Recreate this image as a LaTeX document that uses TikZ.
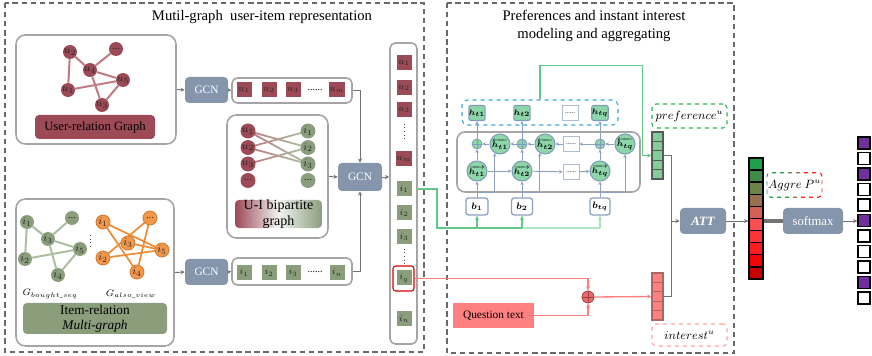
\documentclass[tikz,border=0pt]{standalone}
\usepackage{amsmath}
\usepackage{bm}
\usepackage{fontspec}
\setmainfont{Liberation Serif}
\usetikzlibrary{arrows.meta,calc,backgrounds}

\definecolor{ured}{RGB}{156,74,86}
\definecolor{uedge}{RGB}{192,122,132}
\definecolor{igreen}{RGB}{138,158,124}
\definecolor{iedge}{RGB}{172,190,160}
\definecolor{iorange}{RGB}{243,152,74}
\definecolor{orangeline}{RGB}{240,140,55}
\definecolor{gcnblue}{RGB}{133,149,172}
\definecolor{panelgray}{RGB}{165,165,165}
\definecolor{framegray}{RGB}{105,105,105}
\definecolor{wire}{RGB}{115,115,115}
\definecolor{lstmline}{RGB}{140,160,192}
\definecolor{hgreen}{RGB}{140,214,170}
\definecolor{hedge}{RGB}{128,156,184}
\definecolor{skyblue}{RGB}{56,168,210}
\definecolor{mint}{RGB}{98,200,135}
\definecolor{salmon}{RGB}{255,128,128}
\definecolor{redline}{RGB}{255,125,125}
\definecolor{plusfill}{RGB}{228,108,108}
\definecolor{plusedge}{RGB}{165,62,62}
\definecolor{prefgreen}{RGB}{128,206,152}
\definecolor{purp}{RGB}{112,48,160}
\definecolor{ag1}{RGB}{30,160,72}
\definecolor{ag2}{RGB}{62,140,72}
\definecolor{ag3}{RGB}{108,132,72}
\definecolor{ag4}{RGB}{152,112,80}
\definecolor{ag5}{RGB}{210,98,84}
\definecolor{ag6}{RGB}{250,80,80}
\definecolor{ag7}{RGB}{250,52,52}
\definecolor{ag8}{RGB}{252,30,30}
\definecolor{ag9}{RGB}{240,5,5}
\definecolor{ag10}{RGB}{200,0,0}

\begin{document}
\begin{tikzpicture}[x=0.75pt,y=-0.75pt,
  wh/.style 2 args={minimum width=#1*0.75pt, minimum height=#2*0.75pt, inner sep=0pt},
  panel/.style={draw=panelgray, line width=1.2pt, rounded corners=7pt},
  dframe/.style={draw=framegray, line width=1.4pt, dash pattern=on 4pt off 2.8pt},
  ttl/.style={font=\fontsize{11}{13.5}\selectfont, align=center},
  unode/.style={circle, fill=ured, minimum size=10.5pt, inner sep=0pt, font=\fontsize{8}{8}\selectfont, text=black!85},
  gnode/.style={unode, fill=igreen},
  onode/.style={unode, fill=iorange, draw=orangeline!85!black, line width=0.6pt},
  usq/.style={wh={15}{15}, fill=ured, font=\fontsize{7.5}{7.5}\selectfont, text=black!85},
  isq/.style={usq, fill=igreen},
  dots/.style={font=\fontsize{7.5}{7.5}\selectfont},
  gcn/.style={fill=gcnblue, rounded corners=3pt, text=white, font=\fontsize{8.5}{10}\selectfont},
  tag/.style={rounded corners=3pt, font=\fontsize{9.5}{11}\selectfont, align=center},
  arr/.style={draw=wire, line width=0.7pt, -{Stealth[length=3.2pt,width=3pt]}},
  ln/.style={draw=wire, line width=0.7pt},
  uline/.style={draw=uedge, line width=1.5pt},
  gline/.style={draw=mint, line width=1.2pt},
  garr/.style={gline, -{Stealth[length=3.2pt,width=3pt]}},
  rarr/.style={draw=redline, line width=1pt, -{Stealth[length=3.2pt,width=3pt]}},
  hsq/.style={wh={15}{15}, fill=hgreen, draw=hedge, line width=0.8pt, rounded corners=1.5pt, font=\fontsize{6.5}{7}\selectfont},
  hcirc/.style={circle, fill=hgreen, draw=hedge, line width=0.8pt, minimum size=15pt, inner sep=0pt, font=\fontsize{6.3}{7}\selectfont},
  dotbox/.style={wh={16}{15}, fill=white, draw=lstmline!70, line width=0.6pt, font=\fontsize{5}{5}\selectfont},
  plus/.style={circle, fill=hgreen, draw=hedge, line width=0.6pt, minimum size=7.5pt, inner sep=0pt,
    path picture={\draw[hedge, line width=0.6pt] (path picture bounding box.north) -- (path picture bounding box.south)
      (path picture bounding box.west) -- (path picture bounding box.east);}},
  bbox/.style={fill=white, draw=lstmline, line width=1pt, rounded corners=2pt, font=\fontsize{7}{7}\selectfont},
  la/.style={draw=lstmline, line width=0.7pt, -{Stealth[length=2.6pt,width=2.6pt]}},
  cell/.style={draw=black!65, line width=0.8pt, wh={11}{9.4}},
  aggcell/.style={draw=black, line width=1pt, wh={14}{12.1}},
  outsq/.style={draw=black, line width=0.8pt, wh={12}{12}},
  vlab/.style={dashed, line width=0.8pt, rounded corners=3pt, font=\fontsize{9}{10}\selectfont}
]
\useasboundingbox (0,0) rectangle (872,356);

% ---------- frames and titles ----------
\draw[dframe] (5,3) rectangle (424,352);
\draw[dframe] (447,3) rectangle (734,353);
\node[ttl] (t1) at (262,17) {Mutil-graph\ \ user-item representation};
\node[ttl] (t2) at (594,26) {Preferences and instant interest\\modeling and aggregating};

% ---------- user-relation graph ----------
\node[panel, wh={160}{109}] (ubox) at (96,89.5) {};
\node[tag, fill=ured, wh={120}{24}] (ulab) at (95,127) {User-relation Graph};
\node[unode] (ug2) at (70,52) {$u_2$};
\node[unode] (ugd) at (116,49) {...};
\node[unode] (ug4) at (90,70) {$u_4$};
\node[unode] (ug5) at (123,80) {$u_5$};
\node[unode] (ug1) at (68,90) {$u_1$};
\node[unode] (ug3) at (102,105) {$u_3$};

% ---------- item-relation multi-graph ----------
\node[panel, wh={158}{147}] (ibox) at (95,272.5) {};
\node[tag, fill=igreen, wh={144}{31}, font=\fontsize{10}{11.5}\selectfont] (ilab) at (95,318.5) {Item-relation\\\textit{Multi-graph}};
\node[gnode] (gi1) at (27,222) {$i_1$};
\node[gnode] (gid) at (72,218) {...};
\node[gnode] (gi3) at (48,239) {$i_3$};
\node[gnode] (gi5) at (80,249) {$i_5$};
\node[gnode] (gi2) at (25,259) {$i_2$};
\node[gnode] (gi4) at (58,275) {$i_4$};
\node[onode] (oi1) at (103,222) {$i_1$};
\node[onode] (oid) at (150,218) {...};
\node[onode] (oi3) at (128,243) {$i_3$};
\node[onode] (oi5) at (162,250) {$i_5$};
\node[onode] (oi2) at (103,258) {$i_2$};
\node[onode] (oi4) at (137,272) {$i_4$};
\draw[black!70, dotted, line width=0.7pt] (90,235) -- (90,248);
\node[font=\fontsize{7.5}{7.5}\selectfont] (gbs) at (50,294) {$G_{bought\_seq}$};
\node[font=\fontsize{7.5}{7.5}\selectfont] (gav) at (131,294) {$G_{also\_view}$};

% ---------- U-I bipartite graph ----------
\node[panel, wh={101}{123}] (uibox) at (277.5,176.5) {};
\node[tag, wh={87}{26}, font=\fontsize{10.5}{11.5}\selectfont, left color=ured, right color=igreen, middle color=white!90!gray] (uilab) at (278.5,214) {U-I bipartite\\graph};
\foreach \k/\y in {1/131,2/147.5,3/164} {
  \node[unode, minimum size=11.25pt] (bu\k) at (248,\y) {$u_\k$};
  \node[gnode, minimum size=11.25pt] (bi\k) at (308,\y) {$i_\k$};
}
\node[unode, minimum size=11.25pt] (bud) at (248,180.5) {...};
\node[gnode, minimum size=11.25pt] (bid) at (308,180.5) {...};

% ---------- GCN blocks and embedding rows ----------
\node[gcn, wh={43}{26}] (gcn1) at (206.5,90) {GCN};
\node[gcn, wh={43}{26}] (gcn3) at (206.5,272) {GCN};
\node[gcn, wh={44}{28}] (gcn2) at (360,177) {GCN};
\node[panel, rounded corners=4pt, wh={120}{25}] (rowu) at (292,90.5) {};
\node[panel, rounded corners=4pt, wh={120}{27}] (rowi) at (292,271.5) {};
\node[usq] (ru1) at (244,90) {$u_1$};
\node[usq] (ru2) at (269,90) {$u_2$};
\node[usq] (ru3) at (293,90) {$u_3$};
\node[dots] (rud) at (315,90) {......};
\node[usq] (rum) at (337,90) {$u_m$};
\node[isq] (ri1) at (244,272.5) {$i_1$};
\node[isq] (ri2) at (269,272.5) {$i_2$};
\node[isq] (ri3) at (293,272.5) {$i_3$};
\node[dots] (rid) at (315,272.5) {......};
\node[isq] (rin) at (337,272.5) {$i_n$};

% ---------- stacked user/item embeddings ----------
\node[panel, rounded corners=4pt, wh={27}{301}] (col) at (403.5,193.5) {};
\node[usq] (cu1) at (404,63) {$u_1$};
\node[usq] (cu2) at (404,88) {$u_2$};
\node[usq] (cu3) at (404,110) {$u_3$};
\node[usq] (cum) at (404,159) {$u_m$};
\node[isq] (ci1) at (404,189) {$i_1$};
\node[isq] (ci2) at (404,213) {$i_2$};
\node[isq] (ci3) at (404,237) {$i_3$};
\node[isq] (ciq) at (404,278) {$i_q$};
\node[isq] (cin) at (404,319) {$i_n$};
\draw[black!70, dotted, line width=0.7pt] ($(cu3.south)+(0,6)$) -- ($(cum.north)+(0,-10)$);
\draw[black!70, dotted, line width=0.7pt] ($(ci3.south)+(0,4)$) -- ($(ciq.north)+(0,-6)$);
\node[draw=red!85!black, line width=0.8pt, rounded corners=2pt, wh={21}{25}] (iqr) at (403.5,278.5) {};

% ---------- Bi-LSTM over the items ----------
\node[draw=skyblue, dashed, line width=0.8pt, rounded corners=4pt, wh={156}{25}] (hbox) at (540,112.5) {};
\node[hsq] (ho1) at (477,113) {$\bm{h_{t1}}$};
\node[hsq] (ho2) at (522,113) {$\bm{h_{t2}}$};
\node[dotbox] (hod) at (570,113) {......};
\node[hsq] (hoq) at (600,113) {$\bm{h_{tq}}$};
\node[panel, rounded corners=6pt, wh={183}{60}] (lstm) at (548.5,162) {};
\node[plus] (pl1) at (477,144) {};
\node[hcirc] (bh1) at (500,144) {$\overleftarrow{\bm{h_{t1}}}$};
\node[plus] (pl2) at (522,144) {};
\node[hcirc] (bh2) at (545,144) {$\overleftarrow{\bm{h_{t2}}}$};
\node[dotbox] (bd) at (571,144) {......};
\node[plus] (plq) at (600,144) {};
\node[hcirc] (bhq) at (625,144) {$\overleftarrow{\bm{h_{tq}}}$};
\node[hcirc] (fh1) at (477,171) {$\overrightarrow{\bm{h_{t1}}}$};
\node[hcirc] (fh2) at (522,171) {$\overrightarrow{\bm{h_{t2}}}$};
\node[dotbox] (fd) at (571,172) {......};
\node[hcirc] (fhq) at (600,171) {$\overrightarrow{\bm{h_{tq}}}$};
\node[bbox, wh={22}{17}] (b1) at (477,206.5) {$\bm{b_1}$};
\node[bbox, wh={21}{17}] (b2) at (522,206.5) {$\bm{b_2}$};
\node[bbox, wh={20}{17}] (btq) at (600,206.5) {$\bm{b_{tq}}$};

% ---------- question branch ----------
\node[fill=salmon, wh={81}{25}, font=\fontsize{8.5}{10}\selectfont] (qt) at (493.5,315.5) {Question text};
\node[circle, fill=plusfill, draw=plusedge, line width=0.6pt, minimum size=9pt, inner sep=0pt,
  path picture={\draw[plusedge, line width=0.6pt] (path picture bounding box.north) -- (path picture bounding box.south)
    (path picture bounding box.west) -- (path picture bounding box.east);}] (rplus) at (588,297) {};

% ---------- preference / interest vectors ----------
\foreach \k in {1,...,5} {
  \node[cell, fill=prefgreen] (p\k) at (657.5,{136.7+9.4*(\k-1)}) {};
  \node[cell, fill=salmon, draw=black!55!red!60] (q\k) at (657.5,{277.7+9.4*(\k-1)}) {};
}
\node[vlab, draw={rgb,255:red,40;green,180;blue,80}, wh={75}{24}] (preflab) at (689.5,116) {$preference^u$};
\node[vlab, draw={rgb,255:red,255;green,160;blue,160}, wh={75}{22}] (intlab) at (689.5,335) {$interest^u$};

% ---------- attention and prediction ----------
\node[gcn, wh={46}{26}, font=\fontsize{9.5}{10}\selectfont\bfseries\itshape] (att) at (703,221) {ATT};
\foreach \k in {1,...,10} {
  \node[aggcell, fill=ag\k] (a\k) at (756,{164+12.1*(\k-1)}) {};
}
\node[wh={55}{24}, font=\fontsize{9}{10}\selectfont] (aglab) at (794.5,185) {$Aggre\ P^u$};
\begin{scope}
  \clip (aglab.south west) rectangle ($(aglab.north west)!0.4!(aglab.north east)$);
  \draw[draw=ag1, dashed, line width=0.8pt, rounded corners=3pt] (aglab.south west) rectangle (aglab.north east);
\end{scope}
\begin{scope}
  \clip ($(aglab.south west)!0.4!(aglab.south east)$) rectangle ($(aglab.north west)!0.6!(aglab.north east)$);
  \draw[draw=ag4, dashed, line width=0.8pt, rounded corners=3pt] (aglab.south west) rectangle (aglab.north east);
\end{scope}
\begin{scope}
  \clip ($(aglab.south west)!0.6!(aglab.south east)$) rectangle (aglab.north east);
  \draw[draw=ag8, dashed, line width=0.8pt, rounded corners=3pt] (aglab.south west) rectangle (aglab.north east);
\end{scope}
\node[gcn, wh={60}{26}, font=\fontsize{9.5}{11}\selectfont] (sm) at (813,221) {softmax};
\foreach \k/\c in {1/purp,2/white,3/purp,4/white,5/white,6/purp,7/white,8/white,9/white,10/purp,11/white} {
  \node[outsq, fill=\c] (o\k) at (864,{143+15.5*(\k-1)}) {};
}

% ---------- graph edges (behind the nodes) ----------
\begin{scope}[on background layer]
  \foreach \a/\b in {ug2/ug1,ug2/ug4,ug4/ugd,ug4/ug5,ug4/ug3,ug1/ug5,ug5/ug3}
    \draw[uline] (\a) -- (\b);
  \foreach \a/\b in {gi1/gi3,gi1/gi2,gi3/gid,gi3/gi5,gi3/gi4,gi2/gi5,gi5/gi4}
    \draw[draw=iedge, line width=1.5pt] (\a) -- (\b);
  \foreach \a/\b in {oi1/oi5,oi1/oi4,oid/oi2,oid/oi4,oi2/oi5,oi3/oi5}
    \draw[draw=orangeline, line width=1.3pt] (\a) -- (\b);
  \foreach \a/\b in {bu1/bi2,bu1/bi3,bu2/bi1,bu2/bi3,bu3/bi2} {
    \foreach \k in {0,...,9} {
      \pgfmathtruncatemacro\mixv{100-\k*11}
      \draw[draw=uedge!\mixv!iedge, line width=1.3pt, line cap=round]
        ($(\a)!{\k/10}!(\b)$) -- ($(\a)!{(\k+1)/10}!(\b)$);
    }
  }
\end{scope}

% ---------- connectors: graph encoders ----------
\draw[arr] (ubox.east) -- (gcn1.west);
\draw[arr] (gcn1.east) -- (rowu.west);
\draw[arr] (ibox.east) -- (gcn3.west);
\draw[arr] (gcn3.east) -- (rowi.west);
\draw[arr] (rowu.east) -| (gcn2.north);
\draw[arr] (rowi.east) -| (gcn2.south);
\draw[arr] (uibox.east) -- (gcn2.west);
\draw[arr] (gcn2.east) -- (gcn2.east -| col.west);

% ---------- connectors: item sequence into the Bi-LSTM ----------
\coordinate (gbus) at (437,228);
\draw[gline] (col.east |- ci1) -| (gbus) -- (b1 |- gbus) -- (b2 |- gbus);
\draw[gline, draw=mint!50] (b2 |- gbus) -- (btq |- gbus);
\draw[garr] (b1 |- gbus) -- (b1.south);
\draw[garr] (b2 |- gbus) -- (b2.south);
\draw[garr, draw=mint!55] (btq |- gbus) -- (btq.south);

% ---------- connectors: inside the Bi-LSTM ----------
\draw[la] (b1.north) -- (fh1.south);
\draw[la] (b2.north) -- (fh2.south);
\draw[la] (btq.north) -- (fhq.south);
\draw[la] ($(b1.north)+(0,-5)$) -| (bh1.240);
\draw[la] ($(b2.north)+(0,-5)$) -| (bh2.240);
\draw[la] ($(btq.north)+(0,-5)$) -| (bhq.south);
\draw[la] (fh1) -- (fh2);
\draw[la] (fh2) -- (fd);
\draw[la] (fd) -- (fhq);
\draw[la] (bhq) -- (plq);
\draw[la] (plq) -- (bd);
\draw[la] (bd) -- (bh2);
\draw[la] (bh2) -- (pl2);
\draw[la] (pl2) -- (bh1);
\draw[la] (bh1) -- (pl1);
\draw[la] (fh1) -- (pl1);
\draw[la] (fh2) -- (pl2);
\draw[la] (fhq) -- (plq);
\draw[la] (pl1) -- (ho1);
\draw[la] (pl2) -- (ho2);
\draw[la] (plq) -- (hoq);

% ---------- connectors: preference / interest / attention ----------
\draw[garr, line width=0.8pt] (hbox.north) -- ++(0,-34) -| ($(p3.west)+(-9,0)$) -- (p3.west);
\draw[rarr] (iqr.east) -| (rplus.north);
\draw[rarr] (qt.east) -| (rplus.south);
\draw[rarr] (rplus.east) -- (q3.west);
\coordinate (jn) at (671,221);
\draw[ln] (p3.east) -| (jn);
\draw[ln] (q3.east) -| (jn);
\draw[arr] (jn) -- (att.west);
\draw[arr] (att.east) -- (att.east -| a6.west);
\draw[draw=wire, line width=3.2pt] (att.east -| a6.east) -- (sm.west);
\draw[arr] (sm.east) -- (sm.east -| o6.west);
\end{tikzpicture}
\end{document}
